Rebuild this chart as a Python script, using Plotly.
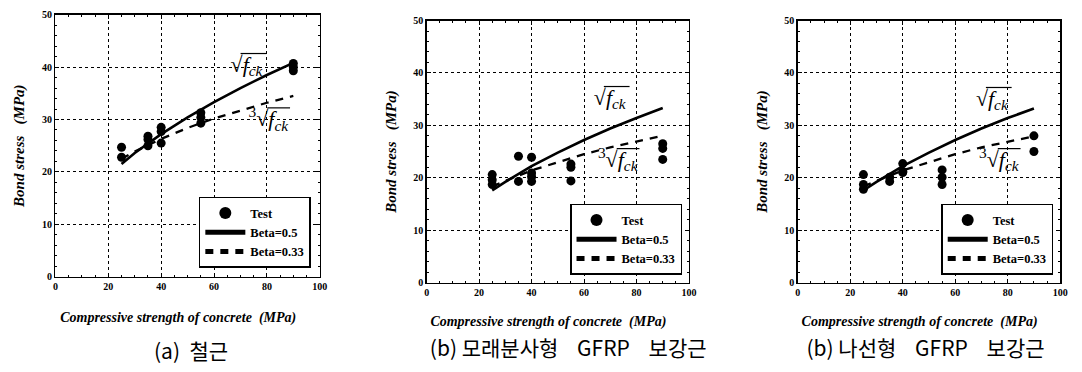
import plotly.graph_objects as go

W, H = 1082, 372

# ---- data ----
fck_test_a = [25, 25, 35, 35, 35, 40, 40, 40, 55, 55, 55, 90, 90, 90]
bond_test_a = [24.7, 22.8, 26.8, 26.2, 25.0, 28.5, 27.7, 25.5, 31.3, 30.4, 29.3, 40.7, 40.0, 39.3]

fck_test_b = [25, 25, 25, 35, 35, 40, 40, 40, 40, 55, 55, 55, 90, 90, 90]
bond_test_b = [20.6, 19.6, 18.7, 24.1, 19.3, 23.9, 20.9, 20.2, 19.3, 22.6, 22.0, 19.4, 26.5, 25.6, 23.5]

fck_test_c = [25, 25, 25, 35, 35, 40, 40, 40, 55, 55, 55, 90, 90]
bond_test_c = [20.6, 18.7, 17.8, 20.1, 19.3, 22.7, 21.2, 21.0, 21.5, 20.1, 18.7, 28.0, 25.0]

fck_model = [25, 30, 40, 50, 60, 70, 80, 90]
beta05_a = [21.5, 23.6, 27.2, 30.4, 33.3, 36.0, 38.5, 40.8]
beta033_a = [22.5, 23.9, 26.3, 28.4, 30.2, 31.7, 33.2, 34.5]
beta05_b = [17.6, 19.2, 22.2, 24.8, 27.2, 29.4, 31.4, 33.3]
beta033_b = [18.3, 19.4, 21.4, 23.0, 24.5, 25.8, 26.9, 28.0]
beta05_c = [17.6, 19.2, 22.2, 24.8, 27.2, 29.4, 31.4, 33.2]
beta033_c = [18.3, 19.4, 21.4, 23.0, 24.5, 25.8, 26.9, 27.9]

NB = "\u00a0"
captions = ["(a)" + NB * 2 + "철근",
            "(b) 모래분사형" + NB * 4 + "GFRP" + NB * 4 + "보강근",
            "(b) 나선형" + NB * 4 + "GFRP" + NB * 4 + "보강근"]
x_title = "Compressive strength of concrete" + NB * 2 + "(MPa)"
y_title = "Bond stress" + NB * 3 + "(MPa)"
legend_names = ["Test", "Beta=0.5", "Beta=0.33"]
sqrt_label = "√<i>f<sub>ck</sub></i>"
cbrt_label = "<sup>3</sup>√<i>f<sub>ck</sub></i>"

SERIF = "Liberation Serif, Times New Roman, Tinos, serif"

# ---- layout geometry (page pixels) ----
panels = [
    dict(x0=53, x1=320, y0=10, y1=280, test=(fck_test_a, bond_test_a), b05=beta05_a, b033=beta033_a,
         leg=(311, 271), xtit=(177, 323), cap=(190, 359),
         sq=(246, 63), cb=(268, 119)),
    dict(x0=428, x1=693, y0=16, y1=286, test=(fck_test_b, bond_test_b), b05=beta05_b, b033=beta033_b,
         leg=(686, 278), xtit=(551, 327), cap=(571, 356),
         sq=(613, 97), cb=(621, 161)),
    dict(x0=803, x1=1068, y0=16, y1=286, test=(fck_test_c, bond_test_c), b05=beta05_c, b033=beta033_c,
         leg=(1061, 278), xtit=(926, 327), cap=(932, 356),
         sq=(999, 98), cb=(1006, 161)),
]

def px(x):
    return x / W

def py(y):
    return 1 - y / H

fig = go.Figure()
shapes = []

# overlay axis in page pixels, used for free text
fig.update_layout(
    xaxis4=dict(domain=[0, 1], range=[0, W], visible=False, fixedrange=True, anchor="y4"),
    yaxis4=dict(domain=[0, 1], range=[H, 0], visible=False, fixedrange=True, anchor="x4"),
)

def add_text(x, y, text, font):
    fig.add_trace(go.Scatter(x=[x], y=[y], text=[text], mode="text", textposition="middle center",
                             textfont=font, xaxis="x4", yaxis="y4", showlegend=False,
                             hoverinfo="skip", cliponaxis=False))

for i, p in enumerate(panels):
    n = "" if i == 0 else str(i + 1)
    xa, ya = "x" + n, "y" + n
    lg = "legend" + n
    fig.add_trace(go.Scatter(x=p["test"][0], y=p["test"][1], mode="markers", name=legend_names[0],
                             marker=dict(color="black", size=9), xaxis=xa, yaxis=ya, legend=lg))
    fig.add_trace(go.Scatter(x=fck_model, y=p["b05"], mode="lines", name=legend_names[1],
                             line=dict(color="black", width=2.6), xaxis=xa, yaxis=ya, legend=lg))
    fig.add_trace(go.Scatter(x=fck_model, y=p["b033"], mode="lines", name=legend_names[2],
                             line=dict(color="black", width=2.3, dash="8px,7px"), xaxis=xa, yaxis=ya, legend=lg))

    common = dict(showline=True, linecolor="black", linewidth=1.5, mirror="allticks",
                  showgrid=True, gridcolor="black", griddash="dot", gridwidth=1,
                  zeroline=False, ticks="inside", ticklen=4, tickcolor="black",
                  tickfont=dict(family=SERIF, size=10, color="black", weight="bold"),
                  fixedrange=True)
    fig.update_layout(**{
        "xaxis" + n: dict(common, domain=[px(p["x0"]), px(p["x1"])], range=[0, 100], dtick=20,
                          anchor=ya, minor=dict(ticks="inside", ticklen=2, dtick=5, tickcolor="black", showgrid=False)),
        "yaxis" + n: dict(common, domain=[py(p["y1"]), py(p["y0"])], range=[0, 50], dtick=10,
                          anchor=xa,
                          title=dict(text=y_title, standoff=13,
                                     font=dict(family=SERIF, size=15, color="black", weight="bold", style="italic")),
                          minor=dict(ticks="inside", ticklen=2, dtick=2, tickcolor="black", showgrid=False)),
        lg: dict(x=px(p["leg"][0]), y=py(p["leg"][1]), xanchor="right", yanchor="bottom",
                 bgcolor="white", bordercolor="black", borderwidth=1.5, itemsizing="constant",
                 font=dict(family=SERIF, size=12.5, color="black", weight="bold"),
                 tracegroupgap=0, itemwidth=40),
    })

    add_text(p["xtit"][0], p["xtit"][1], x_title,
             dict(family=SERIF, size=14, color="black", weight="bold", style="italic"))
    add_text(p["cap"][0], p["cap"][1], captions[i],
             dict(family="Noto Sans CJK KR", size=21, color="black"))
    sx, sy = p["sq"]
    add_text(sx, sy, sqrt_label, dict(family=SERIF, size=22, color="black"))
    shapes.append(dict(type="line", xref="x4", yref="y4", x0=sx - 6, x1=sx + 20,
                       y0=sy - 13, y1=sy - 13, line=dict(color="black", width=1.2)))
    cx, cy = p["cb"]
    add_text(cx, cy, cbrt_label, dict(family=SERIF, size=22, color="black"))
    shapes.append(dict(type="line", xref="x4", yref="y4", x0=cx - 1, x1=cx + 22,
                       y0=cy - 13, y1=cy - 13, line=dict(color="black", width=1.2)))

fig.update_layout(width=W, height=H, margin=dict(l=0, r=0, t=0, b=0),
                  paper_bgcolor="white", plot_bgcolor="rgba(0,0,0,0)",
                  shapes=shapes, showlegend=True)

fig.write_html("out.html", config={"displayModeBar": False, "staticPlot": True},
               post_script="document.body.style.margin='0';document.body.style.overflow='hidden';")
